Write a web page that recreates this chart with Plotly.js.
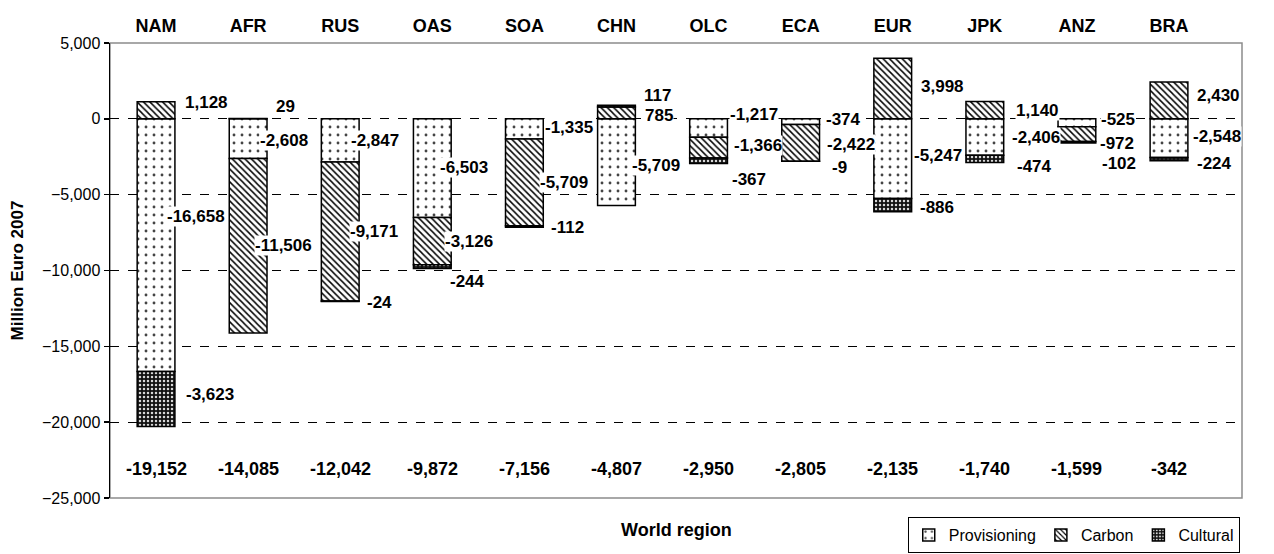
<!DOCTYPE html>
<html>
<head>
<meta charset="utf-8">
<script src="https://cdn.plot.ly/plotly-3.0.1.min.js"></script>
<style>html,body{margin:0;padding:0;background:#fff;}#chart{width:1274px;height:554px;}</style>
</head>
<body>
<div id="chart"></div>
<script>
// ---- data ----
const regions = ['NAM','AFR','RUS','OAS','SOA','CHN','OLC','ECA','EUR','JPK','ANZ','BRA'];
const provisioning = [-16658,-2608,-2847,-6503,-1335,-5709,-1217,-374,-5247,-2406,-525,-2548];
const carbon = [1128,-11506,-9171,-3126,-5709,785,-1366,-2422,3998,1140,-972,2430];
const cultural = [-3623,29,-24,-244,-112,117,-367,-9,-886,-474,-102,-224];
const totals = [-19152,-14085,-12042,-9872,-7156,-4807,-2950,-2805,-2135,-1740,-1599,-342];
const seriesNames = ['Provisioning','Carbon','Cultural'];
const yTickVals = [5000,0,-5000,-10000,-15000,-20000,-25000];

// ---- label placement (px offsets from bar right edge / segment middle) ----
const labelOffsets = [
  [[-10,29],[-8.5,-2],[-9.5,0],[-12.5,1],[0.5,1],[-4.5,-3],[0.5,14],[4.5,2],[0.5,3],[6.5,0],[3.5,3],[3.5,2]],
  [[8.5,8],[-13.5,0],[-10.5,0],[-7.5,0],[-4.5,0],[8.5,-3],[4.5,2],[5.5,-2],[7.5,2],[10.5,0],[2.5,-9],[7.5,5]],
  [[9.5,4],[7.5,12],[6.5,-1.5],[-2.5,-15],[6.5,-1],[7.5,11],[2.5,-19],[10.5,-6.5],[6.5,-2],[11.5,-8],[4.5,-21],[7.5,-4]]
];
const FONT = '"Liberation Sans", Arial, sans-serif';
const barHalfPx = 19.5;
const totalsY = -23100;
const plotBottom = 0.1096;

const series = [provisioning, carbon, cultural];
const patterns = [
  {shape:'.', bgcolor:'#ffffff', fgcolor:'#444444', size:8, solidity:0.1},
  {shape:'\\', bgcolor:'#ffffff', fgcolor:'#000000', size:4.5, solidity:0.33},
  {shape:'.', bgcolor:'#111111', fgcolor:'#d8d8d8', size:4, solidity:0.3}
];

const traces = series.map((vals, i) => ({
  type:'bar', x:regions, y:vals, name:seriesNames[i],
  marker:{color:'#ffffff', line:{color:'#000000', width:1.5}, pattern:patterns[i]},
  hoverinfo:'skip', textposition:'none'
}));

// segment mid points, following "relative" stacking
const pos = regions.map(()=>0), neg = regions.map(()=>0);
const annotations = [];
series.forEach((vals, s) => {
  vals.forEach((v, k) => {
    let base;
    if (v >= 0) { base = pos[k]; pos[k] += v; } else { base = neg[k]; neg[k] += v; }
    const mid = base + v/2;
    const off = labelOffsets[s][k];
    annotations.push({
      x: regions[k], y: mid, xref:'x', yref:'y',
      text: v.toLocaleString('en-US'), showarrow:false,
      xanchor:'left', yanchor:'middle', xshift: barHalfPx + off[0], yshift: off[1],
      bgcolor:'#ffffff', borderpad:0,
      font:{family:FONT, size:17, color:'#000', weight:'bold'}
    });
  });
});
totals.forEach((t, k) => {
  annotations.push({
    x: regions[k], y: totalsY, xref:'x', yref:'y', text: t.toLocaleString('en-US'),
    showarrow:false, xanchor:'center', yanchor:'middle',
    font:{family:FONT, size:18, color:'#000', weight:'bold'}
  });
});
annotations.push({
  x:0.5, y:0.047, xref:'paper', yref:'paper', text:'World region', showarrow:false,
  xanchor:'center', yanchor:'middle', font:{family:FONT, size:18, color:'#000', weight:'bold'}
});

const layout = {
  width:1274, height:554,
  margin:{l:110, r:32, t:43, b:0},
  paper_bgcolor:'#ffffff', plot_bgcolor:'#ffffff',
  barmode:'relative', bargap:0.59,
  font:{family:FONT, color:'#000'},
  xaxis:{type:'category', side:'top', showline:false, ticks:'', showgrid:false, zeroline:false,
         ticklabelstandoff:6,
         tickfont:{family:FONT, size:18, color:'#000', weight:'bold'}, fixedrange:true},
  yaxis:{domain:[plotBottom,1], range:[-25000,5000], tickvals:yTickVals, tickformat:',d', showgrid:true, gridcolor:'#000',
         griddash:'dash', gridwidth:1, zeroline:false, showline:true, linecolor:'#000', linewidth:1.5,
         ticks:'outside', ticklen:5, tickcolor:'#000', tickwidth:1.5,
         tickfont:{family:FONT, size:16, color:'#000'},
         title:{text:'Million Euro 2007', font:{family:FONT, size:17, color:'#000', weight:'bold'}, standoff:14},
         fixedrange:true},
  shapes:[{type:'rect', xref:'paper', yref:'paper', x0:0, x1:1, y0:plotBottom, y1:1,
           line:{color:'#8c8c8c', width:1.5}, layer:'between'}],
  legend:{orientation:'h', x:0.998, y:0.002, xanchor:'right', yanchor:'bottom',
          bordercolor:'#000', borderwidth:1, bgcolor:'#fff', itemwidth:30,
          font:{family:FONT, size:16, color:'#000'}},
  annotations: annotations,
  showlegend:true
};

Plotly.newPlot('chart', traces, layout, {displayModeBar:false, staticPlot:true});
</script>
</body>
</html>
